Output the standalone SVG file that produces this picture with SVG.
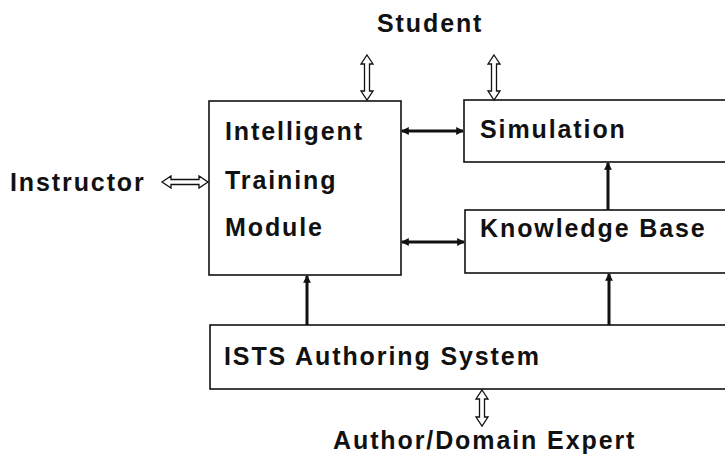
<svg xmlns="http://www.w3.org/2000/svg" width="725" height="464" viewBox="0 0 725 464">
  <style>
    .box { fill: #fff; stroke: #111; stroke-width: 1.6; }
    .lbl { font-family: "Liberation Sans", Arial, sans-serif; font-weight: bold; font-size: 25px; letter-spacing: 1.9px; fill: #111; }
    .hollow { fill: #fff; stroke: #111; stroke-width: 1.3; stroke-linejoin: miter; }
    .solid { stroke: #111; stroke-width: 3; fill: none; }
  </style>
  <defs>
    <marker id="head" viewBox="0 0 8 8" refX="7" refY="4" markerWidth="2.6" markerHeight="2.6" orient="auto-start-reverse" markerUnits="strokeWidth">
      <path d="M0,0 L8,4 L0,8 Z" fill="#111"/>
    </marker>
  </defs>
  <rect width="725" height="464" fill="#fff"/>

  <!-- external actors -->
  <text id="student" class="lbl" x="377" y="32">Student</text>
  <text id="instructor" class="lbl" x="10" y="191">Instructor</text>
  <text id="author" class="lbl" x="333" y="449">Author/Domain Expert</text>

  <!-- modules -->
  <g id="itm">
    <rect class="box" x="209" y="101" width="192" height="174"/>
    <text class="lbl" x="225" y="140">Intelligent</text>
    <text class="lbl" x="225" y="189">Training</text>
    <text class="lbl" x="225" y="236">Module</text>
  </g>
  <g id="simulation">
    <rect class="box" x="464" y="100" width="280" height="62"/>
    <text class="lbl" x="480" y="138">Simulation</text>
  </g>
  <g id="knowledge-base">
    <rect class="box" x="465" y="210" width="280" height="63"/>
    <text class="lbl" x="480" y="237">Knowledge Base</text>
  </g>
  <g id="authoring">
    <rect class="box" x="210" y="325" width="535" height="64"/>
    <text class="lbl" x="224" y="365">ISTS Authoring System</text>
  </g>

  <g id="connectors">
    <!-- hollow two-way arrows to the people -->
    <polygon class="hollow" points="367,55 373,64 369.5,64 369.5,91 373,91 367,100 361,91 364.5,91 364.5,64 361,64"/>
    <polygon class="hollow" points="494,55 500,64 496.5,64 496.5,91 500,91 494,100 488,91 491.5,91 491.5,64 488,64"/>
    <polygon class="hollow" points="162,182 171,176 171,179.5 199,179.5 199,176 208,182 199,188 199,184.5 171,184.5 171,188"/>
    <polygon class="hollow" points="482,390 488,399 484.5,399 484.5,417 488,417 482,426 476,417 479.5,417 479.5,399 476,399"/>
    <!-- solid data flows -->
    <line class="solid" x1="402" y1="131" x2="463" y2="131" marker-start="url(#head)" marker-end="url(#head)"/>
    <line class="solid" x1="402" y1="242" x2="464" y2="242" marker-start="url(#head)" marker-end="url(#head)"/>
    <line class="solid" x1="608" y1="210" x2="608" y2="163" marker-end="url(#head)"/>
    <line class="solid" x1="307" y1="325" x2="307" y2="276" marker-end="url(#head)"/>
    <line class="solid" x1="609" y1="325" x2="609" y2="274" marker-end="url(#head)"/>
  </g>
</svg>
